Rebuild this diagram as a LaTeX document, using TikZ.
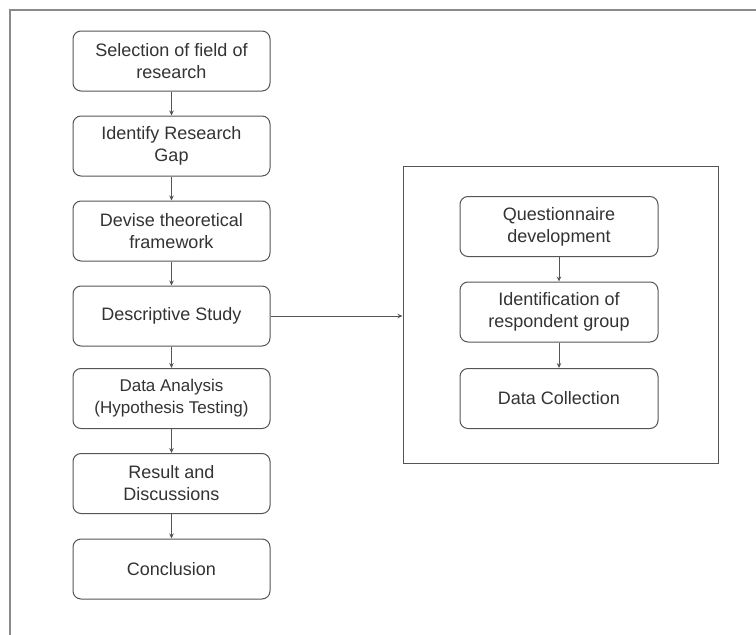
\documentclass[tikz,border=0pt]{standalone}
\usepackage{fontspec}
\setmainfont{Liberation Sans}
\usetikzlibrary{arrows.meta}
\definecolor{boxline}{HTML}{555555}
\definecolor{txt}{HTML}{333333}
\definecolor{frameline}{HTML}{8A8A8A}
\begin{document}
\begin{tikzpicture}[x=1pt,y=-1pt,
  stepbox/.style={draw=boxline,line width=1pt,rounded corners=8pt,minimum width=197pt,minimum height=60pt,
    align=center,text=txt,font=\fontsize{18}{22}\selectfont,inner sep=0pt},
  subbox/.style={stepbox,minimum width=198pt,minimum height=60pt},
  arr/.style={draw=boxline,line width=0.9pt,-{Stealth[length=5pt,width=4.5pt]}}]
\useasboundingbox (0,0) rectangle (756,635);
\fill[white] (0,0) rectangle (756,635);
% outer frame (top and left edges visible)
\draw[frameline,line width=1.5pt] (756,10) -- (10,10) -- (10,635);
% main column
\node[stepbox] (s1) at (171.5,61) {Selection of field of\\research};
\node[stepbox] (s2) at (171.5,146) {Identify Research\\Gap};
\node[stepbox] (s3) at (171.5,231) {Devise theoretical\\framework};
\node[stepbox] (s4) at (171.5,316) {Descriptive Study};
\node[stepbox,font=\fontsize{17}{22}\selectfont] (s5) at (171.5,398.5) {Data Analysis\\(Hypothesis Testing)};
\node[stepbox] (s6) at (171.5,483.5) {Result and\\Discussions};
\node[stepbox] (s7) at (171.5,569) {Conclusion};
% right frame
\node[draw=boxline,line width=1pt,minimum width=315pt,minimum height=297pt,inner sep=0pt] (fr) at (560.5,314.5) {};
\node[subbox] (q1) at (559,226.5) {Questionnaire\\development};
\node[subbox] (q2) at (559,312) {Identification of\\respondent group};
\node[subbox] (q3) at (559,398.5) {Data Collection};
% connectors
\draw[arr] (s1) -- (s2);
\draw[arr] (s2) -- (s3);
\draw[arr] (s3) -- (s4);
\draw[arr] (s4) -- (s5);
\draw[arr] (s5) -- (s6);
\draw[arr] (s6) -- (s7);
\draw[arr] (s4.east) -- (s4.east -| fr.west);
\draw[arr] (q1) -- (q2);
\draw[arr] (q2) -- (q3);
\end{tikzpicture}
\end{document}
